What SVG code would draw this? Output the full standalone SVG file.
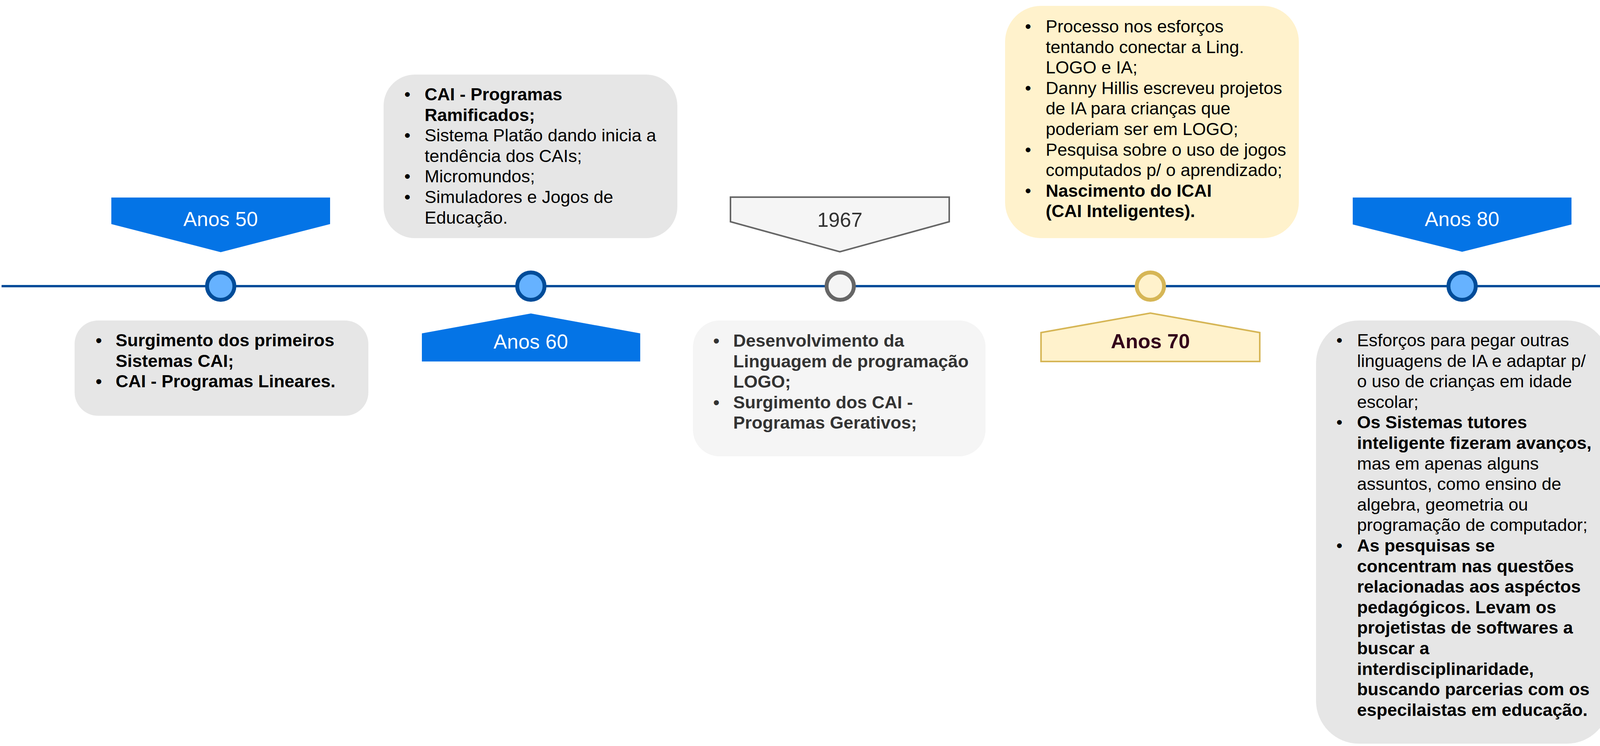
<svg xmlns="http://www.w3.org/2000/svg" width="6517" height="1911" viewBox="0 0 6517 1911">
<style>
.t{font-family:"Liberation Sans",Arial,Helvetica,sans-serif;font-size:45px;fill:#000}
.g{fill:#333333}
.b{font-weight:bold}
.lbl{font-family:"Liberation Sans",Arial,Helvetica,sans-serif;font-size:52px;text-anchor:middle}
.blue{fill:#0474E6}
.wt{fill:#FFFFFF}
.grey{fill:#E6E6E6}
.light{fill:#F5F5F5}
.pale{fill:#F5F5F5;stroke:#666666;stroke-width:4}
.yel{fill:#FFF2CC;stroke:#D6B656;stroke-width:4}
.dotB{fill:#66B2FF;stroke:#004C99;stroke-width:10}
.dotG{fill:#F5F5F5;stroke:#666666;stroke-width:10}
.dotY{fill:#FFF2CC;stroke:#D6B656;stroke-width:10}
</style>
<defs>
<clipPath id="clip1982"><rect x="4161" y="121" width="749" height="490" rx="80"/></clipPath>
</defs>
<rect width="6517" height="1911" fill="#FFFFFF"/>

<g id="connectors">
<line x1="4" y1="733" x2="6513" y2="733" stroke="#004C99" stroke-width="6"/>
</g>

<!-- circles -->
<g id="dot-50"><circle class="dotB" cx="565" cy="733" r="35"/></g>
<g id="dot-60"><circle class="dotB" cx="1359" cy="733" r="35"/></g>
<g id="dot-1967"><circle class="dotG" cx="2151" cy="733" r="35"/></g>
<g id="dot-70"><circle class="dotY" cx="2945" cy="733" r="35"/></g>
<g id="dot-80"><circle class="dotB" cx="3743" cy="733" r="35"/></g>
<g id="dot-1982"><circle class="dotG" cx="4537" cy="733" r="35"/></g>
<g id="dot-90"><circle class="dotB" cx="5328" cy="733" r="35"/></g>
<g id="dot-00"><circle class="dotB" cx="6120" cy="735" r="35"/></g>

<!-- banners -->
<g id="label-50">
<polygon class="blue" points="285,506 845,506 845,574 565,646 285,574"/>
<text class="lbl wt" x="565" y="579">Anos 50</text>
</g>
<g id="label-60">
<polygon class="blue" points="1080,854 1359,803 1639,854 1639,926 1080,926"/>
<text class="lbl wt" x="1359" y="893">Anos 60</text>
</g>
<g id="label-1967">
<polygon class="pale" points="1870,505 2430,505 2430,568 2150,645 1870,568"/>
<text class="lbl g" x="2150" y="581">1967</text>
</g>
<g id="label-70">
<polygon class="yel" points="2665,852 2945,802 3225,852 3225,926 2665,926"/>
<text class="lbl b" x="2945" y="892" fill="#33001A">Anos 70</text>
</g>
<g id="label-80">
<polygon class="blue" points="3463,506 4023,506 4023,575 3743,645 3463,575"/>
<text class="lbl wt" x="3743" y="579">Anos 80</text>
</g>
<g id="label-1982">
<polygon class="pale" points="4256,854 4537,803 4818,854 4818,926 4256,926"/>
<text class="lbl g" x="4537" y="891">1982</text>
</g>
<g id="label-90">
<polygon class="blue" points="5049,506 5609,506 5609,575 5329,645 5049,575"/>
<text class="lbl wt" x="5329" y="579">Anos 90</text>
</g>
<g id="label-00">
<polygon class="blue" points="5840,855 6120,805 6400,855 6400,927 5840,927"/>
<text class="lbl wt" x="6120" y="896">Anos 00</text>
</g>

<!-- boxes -->
<g id="box-50">
<rect class="grey" x="191" y="821" width="752" height="244" rx="60"/>
<text class="t b">
<tspan x="245" y="887">•</tspan><tspan x="296" y="887">Surgimento dos primeiros</tspan>
<tspan x="296" y="939.6">Sistemas CAI;</tspan>
<tspan x="245" y="992.2">•</tspan><tspan x="296" y="992.2">CAI - Programas Lineares.</tspan>
</text>
</g>

<g id="box-60">
<rect class="grey" x="982" y="191" width="752" height="419" rx="80"/>
<text class="t">
<tspan x="1035" y="257">•</tspan><tspan class="b" x="1087" y="257">CAI - Programas</tspan>
<tspan class="b" x="1087" y="309.6">Ramificados;</tspan>
<tspan x="1035" y="362.2">•</tspan><tspan x="1087" y="362.2">Sistema Platão dando inicia a</tspan>
<tspan x="1087" y="414.8">tendência dos CAIs;</tspan>
<tspan x="1035" y="467.4">•</tspan><tspan x="1087" y="467.4">Micromundos;</tspan>
<tspan x="1035" y="520">•</tspan><tspan x="1087" y="520">Simuladores e Jogos de</tspan>
<tspan x="1087" y="572.6">Educação.</tspan>
</text>
</g>

<g id="box-1967">
<rect class="light" x="1774" y="821" width="749" height="348" rx="68"/>
<text class="t b g">
<tspan x="1826" y="888">•</tspan><tspan x="1877" y="888">Desenvolvimento da</tspan>
<tspan x="1877" y="940.6">Linguagem de programação</tspan>
<tspan x="1877" y="993.2">LOGO;</tspan>
<tspan x="1826" y="1045.8">•</tspan><tspan x="1877" y="1045.8">Surgimento dos CAI -</tspan>
<tspan x="1877" y="1098.4">Programas Gerativos;</tspan>
</text>
</g>

<g id="box-70">
<rect fill="#FFF2CC" x="2573" y="15" width="752" height="595" rx="92"/>
<text class="t">
<tspan x="2624" y="83">•</tspan><tspan x="2677" y="83">Processo nos esforços</tspan>
<tspan x="2677" y="135.6">tentando conectar a Ling.</tspan>
<tspan x="2677" y="188.2">LOGO e IA;</tspan>
<tspan x="2624" y="240.8">•</tspan><tspan x="2677" y="240.8">Danny Hillis escreveu projetos</tspan>
<tspan x="2677" y="293.4">de IA para crianças que</tspan>
<tspan x="2677" y="346">poderiam ser em LOGO;</tspan>
<tspan x="2624" y="398.6">•</tspan><tspan x="2677" y="398.6">Pesquisa sobre o uso de jogos</tspan>
<tspan x="2677" y="451.2">computados p/ o aprendizado;</tspan>
<tspan x="2624" y="503.8">•</tspan><tspan class="b" x="2677" y="503.8">Nascimento do ICAI</tspan>
<tspan class="b" x="2677" y="556.4">(CAI Inteligentes).</tspan>
</text>
</g>

<g id="box-80">
<rect class="grey" x="3369" y="821" width="752" height="1084" rx="110"/>
<text class="t">
<tspan x="3421" y="887">•</tspan><tspan x="3474" y="887">Esforços para pegar outras</tspan>
<tspan x="3474" y="939.6">linguagens de IA e adaptar p/</tspan>
<tspan x="3474" y="992.2">o uso de crianças em idade</tspan>
<tspan x="3474" y="1044.8">escolar;</tspan>
<tspan x="3421" y="1097.4">•</tspan><tspan class="b" x="3474" y="1097.4">Os Sistemas tutores</tspan>
<tspan class="b" x="3474" y="1150">inteligente fizeram avanços,</tspan>
<tspan x="3474" y="1202.6">mas em apenas alguns</tspan>
<tspan x="3474" y="1255.2">assuntos, como ensino de</tspan>
<tspan x="3474" y="1307.8">algebra, geometria ou</tspan>
<tspan x="3474" y="1360.4">programação de computador;</tspan>
<tspan x="3421" y="1413">•</tspan><tspan class="b" x="3474" y="1413">As pesquisas se</tspan>
<tspan class="b" x="3474" y="1465.6">concentram nas questões</tspan>
<tspan class="b" x="3474" y="1518.2">relacionadas aos aspéctos</tspan>
<tspan class="b" x="3474" y="1570.8">pedagógicos. Levam os</tspan>
<tspan class="b" x="3474" y="1623.4">projetistas de softwares a</tspan>
<tspan class="b" x="3474" y="1676">buscar a</tspan>
<tspan class="b" x="3474" y="1728.6">interdisciplinaridade,</tspan>
<tspan class="b" x="3474" y="1781.2">buscando parcerias com os</tspan>
<tspan class="b" x="3474" y="1833.8">especilaistas em educação.</tspan>
</text>
</g>

<g id="box-1982">
<rect class="light" x="4161" y="121" width="749" height="490" rx="80"/>
<text class="t g" clip-path="url(#clip1982)">
<tspan x="4214" y="187">•</tspan><tspan x="4265" y="187">CAI atrelado a tecnologias</tspan>
<tspan x="4265" y="239.6">multimídia;</tspan>
<tspan x="4214" y="292.2">•</tspan><tspan x="4265" y="292.2">Surgimento da Telemática e</tspan>
<tspan x="4265" y="344.8">Robótica Educacional (ex.:</tspan>
<tspan x="4265" y="397.4">LEGO/LOGO)</tspan>
<tspan x="4214" y="450">•</tspan><tspan class="b" x="4265" y="450">Introdução dos STI, de fato.</tspan>
<tspan x="4214" y="502.6">•</tspan><tspan class="b" x="4265" y="502.6">Sleeman e Browm revisão</tspan>
<tspan class="b" x="4265" y="555.2">da arte dos CAI e criam o</tspan>
<tspan class="b" x="4265" y="607.8">termo STI.</tspan>
</text>
</g>

<g id="box-90">
<rect class="grey" x="4951" y="821" width="752" height="1014" rx="110"/>
<text class="t">
<tspan x="5003" y="887">•</tspan><tspan x="5056" y="887">Uso difundido da multimídia</tspan>
<tspan x="5056" y="939.6">para melhorar a Educação;</tspan>
<tspan x="5003" y="992.2">•</tspan><tspan x="5056" y="992.2">Alunos apoiados na</tspan>
<tspan x="5056" y="1044.8">construção de jogos e</tspan>
<tspan x="5056" y="1097.4">programação de robôs;</tspan>
<tspan x="5003" y="1150">•</tspan><tspan x="5056" y="1150">Tendencia da Ling. de</tspan>
<tspan x="5056" y="1202.6">programação apoiar as</tspan>
<tspan x="5056" y="1255.2">crianças na construção de</tspan>
<tspan x="5056" y="1307.8">robôs (ex.: LEGO/LOGO);</tspan>
<tspan x="5003" y="1360.4">•</tspan><tspan x="5056" y="1360.4">Movimento em fator de</tspan>
<tspan x="5056" y="1413">modelos contutacionais na</tspan>
<tspan x="5056" y="1465.6">noção de cooperação;</tspan>
<tspan x="5003" y="1518.2">•</tspan><tspan class="b" x="5056" y="1518.2">Tem-se a evolução dos STI</tspan>
<tspan class="b" x="5056" y="1570.8">tradicionais para Ambientes</tspan>
<tspan class="b" x="5056" y="1623.4">Interativos/Inteligentes de</tspan>
<tspan class="b" x="5056" y="1676">Aprendizagem (sigla em</tspan>
<tspan class="b" x="5056" y="1728.6">ingles ILE) ou ainda</tspan>
<tspan class="b" x="5056" y="1781.2">Sistemas Cooperativos.</tspan>
</text>
</g>

<g id="box-00">
<rect class="grey" x="5742" y="193" width="751" height="419" rx="80"/>
<text class="t">
<tspan x="5794" y="261">•</tspan><tspan x="5847" y="261">Integração da Web em</tspan>
<tspan x="5847" y="313.6">Software Educacional;</tspan>
<tspan x="5794" y="366.2">•</tspan><tspan class="b" x="5847" y="366.2">Introdução ao MOOCS,</tspan>
<tspan class="b" x="5847" y="418.8">ambientes de programação</tspan>
<tspan class="b" x="5847" y="471.4">baseados na web e</tspan>
<tspan class="b" x="5847" y="524">dispositivos moveis.</tspan>
</text>
</g>
</svg>
